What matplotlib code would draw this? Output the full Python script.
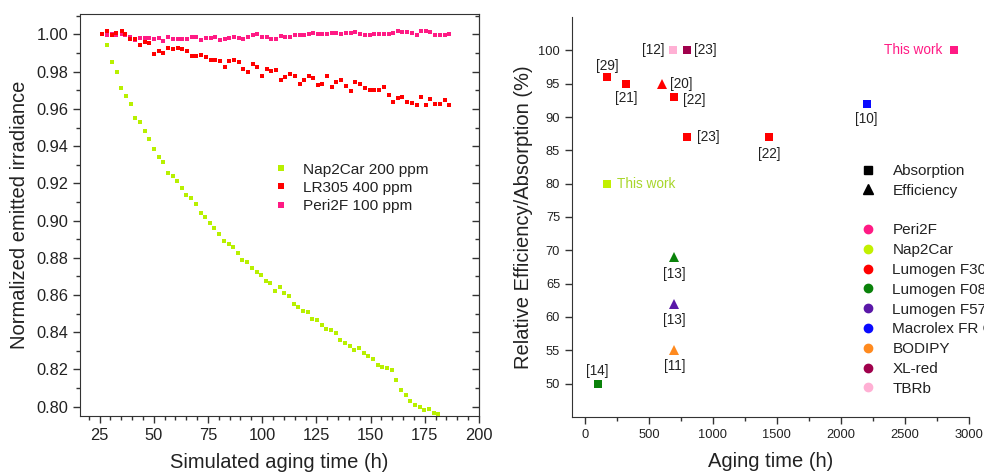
import matplotlib
matplotlib.use('Agg')
import matplotlib.pyplot as plt
from matplotlib.lines import Line2D
from matplotlib.ticker import MultipleLocator

plt.rcParams['font.family'] = ['Liberation Sans', 'DejaVu Sans']

# Left panel: normalized emitted irradiance vs simulated aging time
nap2car_time = [28.6, 30.7, 32.9, 35.0, 37.2, 39.3, 41.5, 43.6, 45.8, 47.9,
                50.1, 52.2, 54.4, 56.5, 58.7, 60.8, 63.0, 65.1, 67.3, 69.4,
                71.6, 73.7, 75.9, 78.0, 80.2, 82.3, 84.5, 86.6, 88.8, 90.9,
                93.1, 95.2, 97.4, 99.5, 101.7, 103.8, 106.0, 108.1, 110.3, 112.4,
                114.6, 116.7, 118.9, 121.0, 123.2, 125.3, 127.5, 129.6, 131.8, 133.9,
                136.1, 138.2, 140.4, 142.5, 144.7, 146.8, 149.0, 151.1, 153.3, 155.4,
                157.6, 159.7, 161.9, 164.0, 166.2, 168.3, 170.5, 172.6, 174.8, 176.9,
                179.1, 181.2]
nap2car_val = [0.9945, 0.9850, 0.9798, 0.9714, 0.9669, 0.9625, 0.9551, 0.9527, 0.9482, 0.9439,
               0.9385, 0.9339, 0.9314, 0.9257, 0.9239, 0.9212, 0.9176, 0.9139, 0.9119, 0.9087,
               0.9042, 0.9019, 0.8987, 0.8958, 0.8930, 0.8890, 0.8876, 0.8858, 0.8828, 0.8790,
               0.8776, 0.8744, 0.8726, 0.8710, 0.8674, 0.8664, 0.8624, 0.8642, 0.8610, 0.8592,
               0.8553, 0.8533, 0.8512, 0.8508, 0.8471, 0.8467, 0.8440, 0.8419, 0.8410, 0.8396,
               0.8360, 0.8342, 0.8328, 0.8306, 0.8315, 0.8288, 0.8270, 0.8256, 0.8226, 0.8213,
               0.8208, 0.8195, 0.8145, 0.8092, 0.8065, 0.8033, 0.8011, 0.7997, 0.7981, 0.7985,
               0.7967, 0.7958]

lr305_time = [26.1, 28.5, 30.7, 32.8, 35.3, 36.9, 38.9, 41.2, 43.5, 45.8,
              47.8, 50.1, 52.2, 54.4, 56.5, 58.8, 61.0, 63.2, 65.3, 67.5,
              69.6, 72.0, 74.1, 76.2, 78.4, 80.5, 82.7, 84.9, 87.0, 89.2,
              91.3, 93.5, 95.6, 97.8, 99.9, 102.1, 104.3, 106.4, 108.6, 110.7,
              112.7, 115.0, 117.3, 119.3, 121.5, 123.6, 125.8, 127.8, 129.9, 132.1,
              134.2, 136.5, 138.7, 140.9, 143.0, 145.3, 147.5, 149.7, 151.8, 154.0,
              156.1, 158.3, 160.4, 162.6, 164.7, 166.9, 169.0, 171.2, 173.3, 175.5,
              177.6, 179.8, 181.9, 184.1, 186.2]
lr305_val = [1.0004, 1.0016, 0.9995, 1.0009, 1.0018, 1.0000, 0.9973, 0.9977, 0.9945, 0.9962,
             0.9955, 0.9893, 0.9911, 0.9898, 0.9929, 0.9920, 0.9927, 0.9920, 0.9911, 0.9882,
             0.9882, 0.9887, 0.9878, 0.9864, 0.9864, 0.9859, 0.9825, 0.9855, 0.9861, 0.9852,
             0.9816, 0.9796, 0.9843, 0.9827, 0.9777, 0.9816, 0.9802, 0.9807, 0.9757, 0.9770,
             0.9787, 0.9775, 0.9734, 0.9757, 0.9777, 0.9768, 0.9730, 0.9732, 0.9775, 0.9716,
             0.9746, 0.9757, 0.9725, 0.9698, 0.9746, 0.9736, 0.9712, 0.9700, 0.9700, 0.9700,
             0.9716, 0.9673, 0.9637, 0.9657, 0.9664, 0.9637, 0.9634, 0.9623, 0.9664, 0.9623,
             0.9655, 0.9628, 0.9628, 0.9646, 0.9623]

peri2f_time = lr305_time
peri2f_val = [1.0000, 0.9998, 1.0005, 0.9995, 1.0002, 0.9998, 0.9986, 0.9968, 0.9982, 0.9980,
              0.9980, 0.9977, 0.9980, 0.9964, 0.9984, 0.9973, 0.9973, 0.9977, 0.9973, 0.9986,
              0.9984, 0.9971, 0.9980, 0.9980, 0.9986, 0.9970, 0.9977, 0.9982, 0.9984, 0.9980,
              0.9973, 0.9989, 0.9995, 1.0000, 0.9986, 0.9989, 0.9977, 0.9977, 0.9991, 0.9986,
              0.9986, 0.9995, 0.9998, 0.9995, 1.0004, 1.0007, 1.0004, 1.0004, 1.0004, 1.0007,
              1.0009, 1.0004, 1.0007, 1.0009, 1.0012, 1.0000, 0.9998, 0.9998, 1.0000, 1.0000,
              1.0000, 1.0000, 1.0009, 1.0018, 1.0012, 1.0012, 1.0007, 0.9998, 1.0018, 1.0016,
              1.0012, 0.9995, 0.9998, 0.9995, 1.0000]

# Right panel: literature comparison
ref_time = [175, 320, 600, 700, 690, 800, 800, 1440, 2200, 2880, 175, 700, 700, 700, 100]
ref_value = [96, 95, 95, 93, 100, 100, 87, 87, 92, 100, 80, 69, 62, 55, 50]
ref_dye = ['Lumogen F305', 'Lumogen F305', 'Lumogen F305', 'Lumogen F305', 'TBRb', 'XL-red',
           'Lumogen F305', 'Lumogen F305', 'Macrolex FR G', 'Peri2F', 'Nap2Car',
           'Lumogen F083', 'Lumogen F570', 'BODIPY', 'Lumogen F083']
ref_kind = ['Absorption', 'Absorption', 'Efficiency', 'Absorption', 'Absorption', 'Absorption',
            'Absorption', 'Absorption', 'Absorption', 'Absorption', 'Absorption',
            'Efficiency', 'Efficiency', 'Efficiency', 'Absorption']
ref_label = ['[29]', '[21]', '[20]', '[22]', '[12]', '[23]', '[23]', '[22]', '[10]',
             'This work', 'This work', '[13]', '[13]', '[11]', '[14]']

dye_order = ['Peri2F', 'Nap2Car', 'Lumogen F305', 'Lumogen F083', 'Lumogen F570',
             'Macrolex FR G', 'BODIPY', 'XL-red', 'TBRb']
dye_colors = {'Peri2F': '#ff1a84', 'Nap2Car': '#c2f000', 'Lumogen F305': '#ff0000',
              'Lumogen F083': '#0a820a', 'Lumogen F570': '#5a18a8', 'Macrolex FR G': '#0a0aff',
              'BODIPY': '#ff8a1e', 'XL-red': '#a0004c', 'TBRb': '#ffb0d4'}
kind_marker = {'Absorption': 's', 'Efficiency': '^'}

# label offsets in points (dx, dy, ha)
label_offsets = [(0, 8, 'center'), (0, -10, 'center'), (6, 0, 'left'), (6, -2, 'left'),
                 (-6, 0, 'right'), (5, 0, 'left'), (7, 0, 'left'), (0, -12, 'center'),
                 (0, -11, 'center'), (-8, 0, 'right'), (7, 0, 'left'), (0, -12, 'center'),
                 (0, -12, 'center'), (0, -11, 'center'), (0, 9, 'center')]

fig = plt.figure(figsize=(9.84, 4.74), dpi=100)
ax1 = fig.add_axes([0.0813, 0.1224, 0.4055, 0.8481])
ax2 = fig.add_axes([0.5813, 0.1203, 0.4035, 0.8438])

text_c = '#222222'
spine_c = '#333333'

# ---- left panel ----
ms = 3.4
ax1.plot(peri2f_time, peri2f_val, 's', color='#ff1a84', ms=ms, mew=0, label='Peri2F 100 ppm', zorder=2)
ax1.plot(lr305_time, lr305_val, 's', color='#ff0000', ms=ms, mew=0, label='LR305 400 ppm', zorder=3)
ax1.plot(nap2car_time, nap2car_val, 's', color='#b8f000', ms=ms, mew=0, label='Nap2Car 200 ppm', zorder=3)

ax1.set_xlim(16, 200)
ax1.set_ylim(0.795, 1.011)
ax1.xaxis.set_major_locator(MultipleLocator(25))
ax1.xaxis.set_minor_locator(MultipleLocator(5))
ax1.yaxis.set_major_locator(MultipleLocator(0.02))
ax1.yaxis.set_minor_locator(MultipleLocator(0.01))
ax1.yaxis.set_major_formatter(plt.FormatStrFormatter('%.2f'))
ax1.tick_params(axis='both', which='major', length=5, width=1, color=spine_c,
                labelsize=11.8, labelcolor=text_c, direction='out')
ax1.tick_params(axis='both', which='minor', length=3, width=1, color=spine_c, direction='out')
for s in ax1.spines.values():
    s.set_color(spine_c)

# inward ticks on the right spine
sec = ax1.secondary_yaxis('right')
sec.yaxis.set_major_locator(MultipleLocator(0.02))
sec.yaxis.set_minor_locator(MultipleLocator(0.01))
sec.tick_params(which='major', direction='in', length=5, width=1, color=spine_c, labelright=False)
sec.tick_params(which='minor', direction='in', length=3, width=1, color=spine_c)
sec.spines['right'].set_color(spine_c)

ax1.set_xlabel('Simulated aging time (h)', fontsize=14.5, color=text_c)
ax1.set_ylabel('Normalized emitted irradiance', fontsize=14.5, color=text_c)
ax1.xaxis.set_label_coords(0.5, -0.092)
ax1.yaxis.set_label_coords(-0.127, 0.5)

h, l = ax1.get_legend_handles_labels()
ax1.legend(h[::-1], l[::-1], loc='upper left', bbox_to_anchor=(0.45, 0.665), frameon=False,
           fontsize=11.1, handlelength=1.0, handletextpad=0.9, labelspacing=0.28,
           markerscale=1.25, labelcolor=text_c)

# ---- right panel ----
for i in range(len(ref_time)):
    dye = ref_dye[i]
    m = kind_marker[ref_kind[i]]
    size = 5.4 if m == 's' else 7.5
    ax2.plot(ref_time[i], ref_value[i], m, color=dye_colors[dye], ms=size, mew=0, zorder=3)
    dx, dy, ha = label_offsets[i]
    if ref_label[i] == 'This work':
        tc = dye_colors[dye] if dye == 'Peri2F' else '#a8d62a'
    else:
        tc = text_c
    ax2.annotate(ref_label[i], (ref_time[i], ref_value[i]), xytext=(dx, dy),
                 textcoords='offset points', ha=ha, va='center', fontsize=9.8, color=tc)

ax2.set_xlim(-100, 3000)
ax2.set_ylim(45, 105)
ax2.set_yticks(range(50, 101, 5))
ax2.xaxis.set_major_locator(MultipleLocator(500))
ax2.xaxis.set_minor_locator(MultipleLocator(250))
ax2.spines['top'].set_visible(False)
ax2.spines['right'].set_visible(False)
for s in ['left', 'bottom']:
    ax2.spines[s].set_color(spine_c)
ax2.tick_params(axis='both', which='major', length=5, width=1, color=spine_c,
                labelsize=9.3, labelcolor=text_c, direction='out')
ax2.tick_params(axis='x', which='minor', length=3, width=1, color=spine_c, direction='out')
ax2.set_xlabel('Aging time (h)', fontsize=14.5, color=text_c)
ax2.set_ylabel('Relative Efficiency/Absorption (%)', fontsize=14.5, color=text_c)
ax2.xaxis.set_label_coords(0.5, -0.088)
ax2.yaxis.set_label_coords(-0.097, 0.5)

handles = [Line2D([], [], marker='s', color='black', ls='none', ms=5.2),
           Line2D([], [], marker='^', color='black', ls='none', ms=7),
           Line2D([], [], ls='none')]
labels = ['Absorption', 'Efficiency', '']
for dye in dye_order:
    handles.append(Line2D([], [], marker='o', color=dye_colors[dye], ls='none', ms=6))
    labels.append(dye)
ax2.legend(handles, labels, loc='upper left', bbox_to_anchor=(0.711, 0.648), frameon=False,
           fontsize=11, handlelength=1.0, handletextpad=1.1, labelspacing=0.38,
           borderaxespad=0, labelcolor=text_c)

fig.savefig('out.png', dpi=100)
